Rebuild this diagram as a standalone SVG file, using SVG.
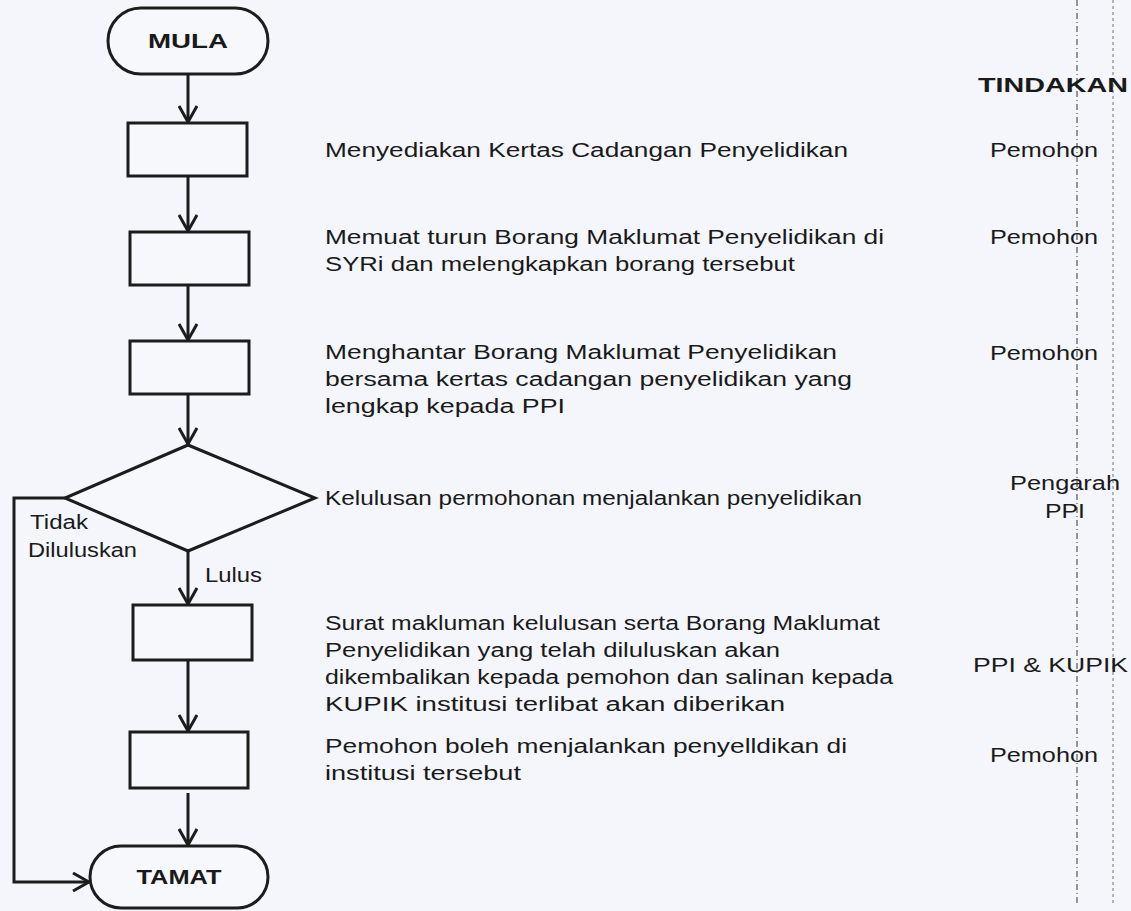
<svg xmlns="http://www.w3.org/2000/svg" width="1131" height="911" viewBox="0 0 1131 911">
<style>
.s{fill:none;stroke:#1c1c1c;stroke-width:3;stroke-linejoin:miter}
.n{fill:#f7f8fc;stroke:#1c1c1c;stroke-width:3}
.t{font-family:"Liberation Sans",Arial,sans-serif;font-size:19.5px;fill:#1a1a1a}
.b{font-family:"Liberation Sans",Arial,sans-serif;font-size:19.5px;font-weight:bold;fill:#1a1a1a}
.r{text-anchor:middle}
.d{fill:none;stroke:#555;stroke-width:1.2;stroke-dasharray:6 3 1 3}
.d2{fill:none;stroke:#888;stroke-width:1.2;stroke-dasharray:3 3}
</style>
<defs>
<marker id="ah" viewBox="0 0 20 20" refX="18" refY="10" markerWidth="20" markerHeight="20" markerUnits="userSpaceOnUse" orient="auto">
<path d="M2,1 L18,10 L2,19" fill="none" stroke="#1c1c1c" stroke-width="3"/>
</marker>
</defs>
<rect width="1131" height="911" fill="#f4f6fb"/>
<g id="guides">
<path class="d" d="M1077,0 V905"/>
<path class="d2" d="M1113,0 V905"/>
</g>
<g id="connectors">
<path class="s" d="M188,74 V122" marker-end="url(#ah)"/>
<path class="s" d="M188,176 V231" marker-end="url(#ah)"/>
<path class="s" d="M188,285 V340" marker-end="url(#ah)"/>
<path class="s" d="M188,394 V444" marker-end="url(#ah)"/>
<path class="s" d="M188,551 V604" marker-end="url(#ah)"/>
<path class="s" d="M188,660 V731" marker-end="url(#ah)"/>
<path class="s" d="M188,793 V845" marker-end="url(#ah)"/>
<path class="s" d="M65,498 H14 V882 H89" marker-end="url(#ah)"/>
<text class="t" x="30" y="529" textLength="58" lengthAdjust="spacingAndGlyphs">Tidak</text>
<text class="t" x="28" y="557" textLength="109" lengthAdjust="spacingAndGlyphs">Diluluskan</text>
<text class="t" x="205" y="582" textLength="57" lengthAdjust="spacingAndGlyphs">Lulus</text>
</g>
<g id="mula">
<rect class="n" x="108" y="8" width="160" height="66" rx="33"/>
<text class="b r" x="188" y="48" textLength="80" lengthAdjust="spacingAndGlyphs">MULA</text>
</g>
<g id="step1">
<rect class="n" x="128" y="123" width="119" height="53"/>
<text class="t" x="325" y="157" textLength="523" lengthAdjust="spacingAndGlyphs">Menyediakan Kertas Cadangan Penyelidikan</text>
<text class="t" x="990" y="157" textLength="108" lengthAdjust="spacingAndGlyphs">Pemohon</text>
</g>
<g id="step2">
<rect class="n" x="130" y="232" width="119" height="53"/>
<text class="t" x="325" y="244" textLength="559" lengthAdjust="spacingAndGlyphs">Memuat turun Borang Maklumat Penyelidikan di</text>
<text class="t" x="325" y="271" textLength="470" lengthAdjust="spacingAndGlyphs">SYRi dan melengkapkan borang tersebut</text>
<text class="t" x="990" y="244" textLength="108" lengthAdjust="spacingAndGlyphs">Pemohon</text>
</g>
<g id="step3">
<rect class="n" x="130" y="341" width="119" height="53"/>
<text class="t" x="325" y="359" textLength="512" lengthAdjust="spacingAndGlyphs">Menghantar Borang Maklumat Penyelidikan</text>
<text class="t" x="325" y="386" textLength="527" lengthAdjust="spacingAndGlyphs">bersama kertas cadangan penyelidikan yang</text>
<text class="t" x="325" y="413" textLength="240" lengthAdjust="spacingAndGlyphs">lengkap kepada PPI</text>
<text class="t" x="990" y="360" textLength="108" lengthAdjust="spacingAndGlyphs">Pemohon</text>
</g>
<g id="decision">
<polygon class="n" points="188,445 315,498 188,551 65,498"/>
<text class="t" x="325" y="505" textLength="537" lengthAdjust="spacingAndGlyphs">Kelulusan permohonan menjalankan penyelidikan</text>
<text class="t" x="1010" y="490" textLength="110" lengthAdjust="spacingAndGlyphs">Pengarah</text>
<text class="t" x="1045" y="518" textLength="40" lengthAdjust="spacingAndGlyphs">PPI</text>
</g>
<g id="step4">
<rect class="n" x="133" y="605" width="119" height="55"/>
<text class="t" x="325" y="630" textLength="555" lengthAdjust="spacingAndGlyphs">Surat makluman kelulusan serta Borang Maklumat</text>
<text class="t" x="325" y="657" textLength="455" lengthAdjust="spacingAndGlyphs">Penyelidikan yang telah diluluskan akan</text>
<text class="t" x="325" y="684" textLength="568" lengthAdjust="spacingAndGlyphs">dikembalikan kepada pemohon dan salinan kepada</text>
<text class="t" x="325" y="711" textLength="460" lengthAdjust="spacingAndGlyphs">KUPIK institusi terlibat akan diberikan</text>
<text class="t" x="973" y="672" textLength="155" lengthAdjust="spacingAndGlyphs">PPI &amp; KUPIK</text>
</g>
<g id="step5">
<rect class="n" x="130" y="732" width="118" height="56"/>
<text class="t" x="325" y="753" textLength="522" lengthAdjust="spacingAndGlyphs">Pemohon boleh menjalankan penyelldikan di</text>
<text class="t" x="325" y="780" textLength="196" lengthAdjust="spacingAndGlyphs">institusi tersebut</text>
<text class="t" x="990" y="762" textLength="108" lengthAdjust="spacingAndGlyphs">Pemohon</text>
</g>
<g id="tamat">
<rect class="n" x="90" y="846" width="178" height="62" rx="31"/>
<text class="b r" x="179" y="884" textLength="85" lengthAdjust="spacingAndGlyphs">TAMAT</text>
</g>
<text class="b" x="978" y="92" textLength="150" lengthAdjust="spacingAndGlyphs">TINDAKAN</text>
</svg>
